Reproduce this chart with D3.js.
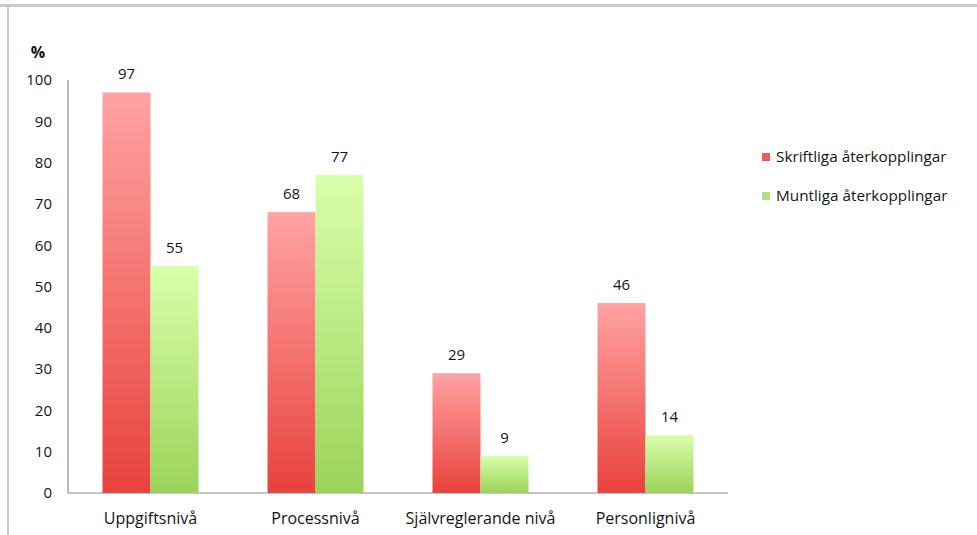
<!DOCTYPE html>
<html>
<head>
<meta charset="utf-8">
<script src="https://cdn.jsdelivr.net/npm/d3@7"></script>
<style>
  html, body { margin: 0; padding: 0; background: #fff; }
  svg { display: block; }
  text { font-family: "Open Sans", "Liberation Sans", sans-serif; fill: #141414; }
</style>
</head>
<body>
<svg id="chart" width="977" height="535"></svg>
<script>
// Feedback levels and share (%) of written and oral feedback
const categories = ["Uppgiftsnivå", "Processnivå", "Självreglerande nivå", "Personlignivå"];
const seriesNames = ["Skriftliga återkopplingar", "Muntliga återkopplingar"];
const skriftliga = [97, 68, 29, 46];
const muntliga = [55, 77, 9, 14];
const yTicks = [0, 10, 20, 30, 40, 50, 60, 70, 80, 90, 100];

const seriesValues = [skriftliga, muntliga];
const gradients = [
  { id: "gradRed", top: "#ffa3a3", bottom: "#e8423c", swatch: "#f25a55" },
  { id: "gradGreen", top: "#d9ffab", bottom: "#9bd35a", swatch: "#b3e07e" }
];

const svg = d3.select("#chart");

// outer frame edges
svg.append("rect").attr("x", 0).attr("y", 4).attr("width", 977).attr("height", 3).attr("fill", "#c9c9c9");
svg.append("rect").attr("x", 7).attr("y", 4).attr("width", 2).attr("height", 531).attr("fill", "#c9c9c9");

const defs = svg.append("defs");
gradients.forEach(g => {
  const lg = defs.append("linearGradient").attr("id", g.id)
    .attr("x1", 0).attr("y1", 0).attr("x2", 0).attr("y2", 1);
  lg.append("stop").attr("offset", "0%").attr("stop-color", g.top);
  lg.append("stop").attr("offset", "100%").attr("stop-color", g.bottom);
});

const plot = { left: 68, right: 728, top: 80, bottom: 493 };

const x0 = d3.scaleBand().domain(categories).range([plot.left, plot.right]).paddingInner(0).paddingOuter(0);
const x1 = d3.scaleBand().domain(d3.range(seriesNames.length)).range([0, 96]);
const groupOffset = (x0.bandwidth() - 96) / 2;
const y = d3.scaleLinear().domain([0, 100]).range([plot.bottom, plot.top]);

// axes lines
svg.append("line").attr("x1", plot.left).attr("x2", plot.left)
  .attr("y1", plot.top).attr("y2", plot.bottom).attr("stroke", "#8c8c8c").attr("stroke-width", 1.2);
svg.append("line").attr("x1", plot.left).attr("x2", plot.right)
  .attr("y1", plot.bottom).attr("y2", plot.bottom).attr("stroke", "#8c8c8c").attr("stroke-width", 1.2);

// y tick labels
const yAxis = d3.axisLeft(y).tickValues(yTicks).tickSize(0).tickPadding(16);
const yg = svg.append("g").attr("transform", `translate(${plot.left},0)`).call(yAxis);
yg.select(".domain").remove();
yg.selectAll("text").attr("font-size", 15).attr("fill", "#141414")
  .style("font-family", "'Open Sans', sans-serif");

svg.append("text").attr("x", 38).attr("y", 58).attr("text-anchor", "middle")
  .attr("font-size", 16).attr("font-weight", "bold").text("%");

// category labels
const xAxis = d3.axisBottom(x0).tickSize(0).tickPadding(20);
const xg = svg.append("g").attr("transform", `translate(0,${plot.bottom})`).call(xAxis);
xg.select(".domain").remove();
xg.selectAll("text").attr("font-size", 16).attr("fill", "#141414")
  .style("font-family", "'Open Sans', sans-serif");

// bars and value labels
seriesValues.forEach((vals, si) => {
  const g = svg.append("g");
  g.selectAll("rect").data(vals).join("rect")
    .attr("x", (d, i) => x0(categories[i]) + groupOffset + x1(si))
    .attr("y", d => y(d))
    .attr("width", x1.bandwidth())
    .attr("height", d => plot.bottom - y(d))
    .attr("fill", `url(#${gradients[si].id})`);
  g.selectAll("text").data(vals).join("text")
    .attr("x", (d, i) => x0(categories[i]) + groupOffset + x1(si) + x1.bandwidth() / 2)
    .attr("y", d => y(d) - 13)
    .attr("text-anchor", "middle")
    .attr("font-size", 15)
    .text(d => d);
});

// legend
const legend = svg.append("g").attr("transform", "translate(762,157)");
seriesNames.forEach((name, i) => {
  const row = legend.append("g").attr("transform", `translate(0,${i * 39})`);
  row.append("rect").attr("x", 0).attr("y", -4).attr("width", 8).attr("height", 8)
    .attr("fill", gradients[i].swatch);
  row.append("text").attr("x", 14).attr("y", 5).attr("font-size", 15.3).text(name);
});
</script>
</body>
</html>
